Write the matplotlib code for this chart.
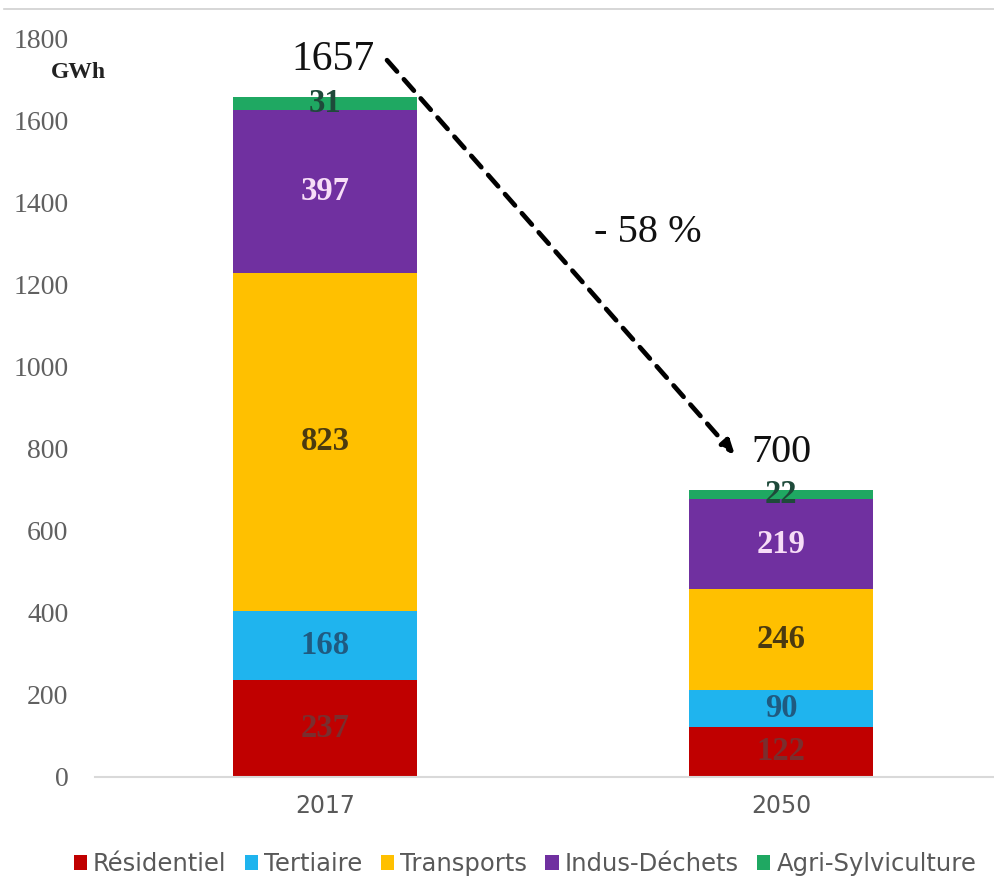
import matplotlib
matplotlib.use("Agg")
import matplotlib.pyplot as plt
from matplotlib.lines import Line2D
from matplotlib.patches import Patch

# Energy consumption by sector (GWh)
years = ["2017", "2050"]
sectors = ["Résidentiel", "Tertiaire", "Transports", "Indus-Déchets", "Agri-Sylviculture"]
residentiel = [237, 122]
tertiaire = [168, 90]
transports = [823, 246]
indus_dechets = [397, 219]
agri_sylviculture = [31, 22]
totals = [1657, 700]
change_label = "- 58 %"
yticks = [0, 200, 400, 600, 800, 1000, 1200, 1400, 1600, 1800]

series = [residentiel, tertiaire, transports, indus_dechets, agri_sylviculture]
colors = ["#C00000", "#1FB4EE", "#FFC000", "#7030A0", "#1FA862"]
label_colors = ["#7A2E2E", "#1F5A80", "#4A3A10", "#F7DDF7", "#1E4A3A"]

fig = plt.figure(figsize=(9.95, 8.81), dpi=100)
ax = fig.add_axes([95 / 995, 1 - 777 / 881, 900 / 995, 739 / 881])

x = list(range(len(years)))
bar_w = 0.4035
bottoms = [0.0] * len(years)
for vals, col, lcol in zip(series, colors, label_colors):
    ax.bar(x, vals, width=bar_w, bottom=bottoms, color=col, edgecolor="none")
    for i, v in enumerate(vals):
        ax.text(x[i], bottoms[i] + v / 2, f"{v}", ha="center", va="center",
                fontsize=23.5, fontweight="bold", family="Liberation Serif", color=lcol)
    bottoms = [b + v for b, v in zip(bottoms, vals)]

ax.set_xlim(-0.5044, 1.4693)
ax.set_ylim(0, 1800)
ax.set_xticks(x)
ax.set_xticklabels(years, fontsize=17, color="#595959", family="DejaVu Sans")
ax.set_yticks(yticks)
ax.set_yticklabels([str(t) for t in yticks], fontsize=20, color="#606060",
                   family="Liberation Serif")
ax.tick_params(axis="both", length=0)
ax.tick_params(axis="x", pad=12)
ax.tick_params(axis="y", pad=19)
for s in ["left", "right", "top"]:
    ax.spines[s].set_visible(False)
ax.spines["bottom"].set_color("#D9D9D9")
ax.spines["bottom"].set_linewidth(1.5)

# Unit label
fig.text(78 / 995, 1 - 72 / 881, "GWh", ha="center", va="center",
         fontsize=17, fontweight="bold", family="Liberation Serif", color="#222222")

# Totals above bars
ax.text(0.0175, 1746, f"{totals[0]}", ha="center", va="center",
        fontsize=30, family="Liberation Serif", color="#111111")
ax.text(1.0, 791, f"{totals[1]}", ha="center", va="center",
        fontsize=29, family="Liberation Serif", color="#111111")

# Dashed arrow showing the reduction
ax.annotate("", xy=(0.899, 784), xytext=(0.136, 1746),
            arrowprops=dict(arrowstyle="-|>,head_length=0.8,head_width=0.35",
                            linestyle=(0, (3.2, 2.2)), lw=3.4, color="black",
                            shrinkA=0, shrinkB=0))
ax.text(0.708, 1327, change_label, ha="center", va="center",
        fontsize=29, family="Liberation Serif", color="#111111")

# Thin rule along the top edge
fig.add_artist(Line2D([4 / 995, 1.0], [1 - 9 / 881, 1 - 9 / 881],
                      color="#D0D0D0", lw=1.2))

handles = [Patch(facecolor=c, edgecolor="none") for c in colors]
fig.legend(handles, sectors, loc="center", bbox_to_anchor=(525 / 995, 1 - 864 / 881),
           ncol=5, frameon=False, fontsize=17.5, handlelength=0.55, handleheight=0.55,
           handletextpad=0.25, columnspacing=0.75, labelcolor="#595959")

fig.savefig("out.png", dpi=100)
